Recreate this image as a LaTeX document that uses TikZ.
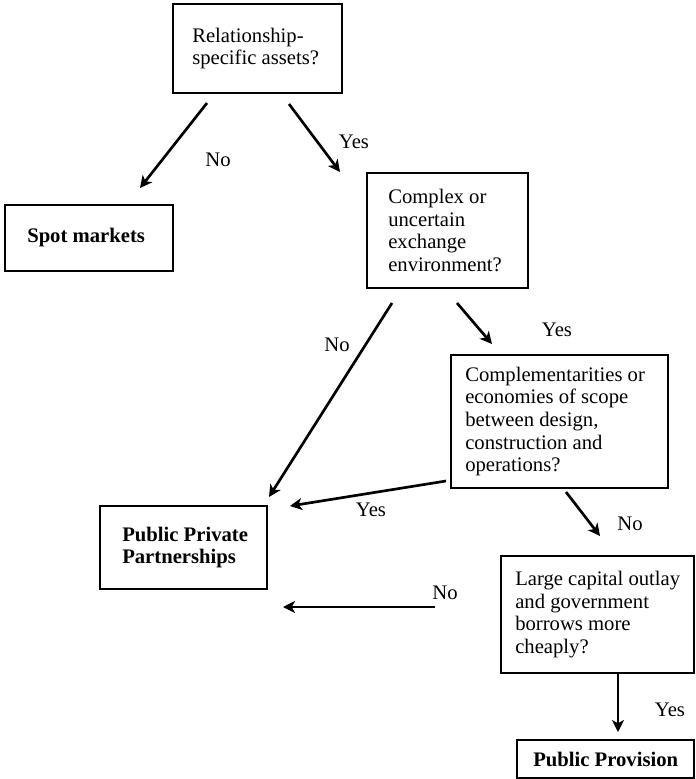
\documentclass[tikz,border=0pt]{standalone}
\usepackage{fontspec}
\setmainfont{Liberation Serif}
\usetikzlibrary{arrows.meta}
\begin{document}
\begin{tikzpicture}[x=0.75pt,y=-0.75pt,
  bx/.style={draw, line width=0.8pt, inner sep=0pt},
  txt/.style={anchor=west, align=left, inner sep=0pt, font=\fontsize{15.5}{16.9}\selectfont},
  btxt/.style={txt, font=\fontsize{15.5}{16.9}\selectfont\bfseries},
  arr/.style={line width=2pt, -{Stealth[length=9pt,width=9pt,inset=2.5pt]}},
  lab/.style={inner sep=0pt, font=\fontsize{15.5}{16.9}\selectfont}]
\useasboundingbox (0,0) rectangle (696,779);
% boxes
\node[bx, minimum width=126.75pt, minimum height=66.75pt] (b1) at (257.5,48.5) {};
\node[txt] (t1) at (192,48.5) {Relationship-\\specific assets?};
\node[bx, minimum width=126pt, minimum height=49.5pt] (spot) at (89,238) {};
\node[btxt] (tspot) at (27,238) {Spot markets};
\node[bx, minimum width=120.75pt, minimum height=86.25pt] (b3) at (447.5,230.5) {};
\node[txt] (t3) at (388,230.5) {Complex or\\uncertain\\exchange\\environment?};
\node[bx, minimum width=162.75pt, minimum height=99.75pt] (b4) at (559.5,421.5) {};
\node[txt] (t4) at (465,421.5) {Complementarities or\\economies of scope\\between design,\\construction and\\operations?};
\node[bx, minimum width=125.25pt, minimum height=62.25pt] (ppp) at (183.5,547.5) {};
\node[btxt] (tppp) at (122,547.5) {Public Private\\Partnerships};
\node[bx, minimum width=144.75pt, minimum height=87.75pt] (b6) at (597.5,614.5) {};
\node[txt] (t6) at (515,614.5) {Large capital outlay\\and government\\borrows more\\cheaply?};
\node[bx, minimum width=132.75pt, minimum height=28.5pt] (pp) at (605.5,759) {};
\node[btxt] (tpp) at (533,759) {Public Provision};
% connector end points
\coordinate (a1s) at (207,103); \coordinate (a1e) at (140,188);
\coordinate (a2s) at (289,104); \coordinate (a2e) at (340,172);
\coordinate (a3s) at (392,303); \coordinate (a3e) at (269,497);
\coordinate (a4s) at (457,303); \coordinate (a4e) at (492,344);
\coordinate (a5s) at (446,481); \coordinate (a5e) at (290,506);
\coordinate (a6s) at (566,492); \coordinate (a6e) at (600,536);
\coordinate (a7s) at (435,607); \coordinate (a7e) at (283,607);
\coordinate (a8s) at (618,673); \coordinate (a8e) at (618,732);
\draw[arr] (a1s) -- (a1e);
\draw[arr] (a2s) -- (a2e);
\draw[arr] (a3s) -- (a3e);
\draw[arr] (a4s) -- (a4e);
\draw[arr] (a5s) -- (a5e);
\draw[arr] (a6s) -- (a6e);
\draw[arr] (a7s) -- (a7e);
\draw[arr] (a8s) -- (a8e);
% labels
\node[lab] (l1) at (218,160) {No};
\node[lab] (l2) at (354,142) {Yes};
\node[lab] (l3) at (337,345) {No};
\node[lab] (l4) at (557,330) {Yes};
\node[lab] (l5) at (371,510) {Yes};
\node[lab] (l6) at (630,524) {No};
\node[lab] (l7) at (445,593) {No};
\node[lab] (l8) at (670,710) {Yes};
\end{tikzpicture}
\end{document}
